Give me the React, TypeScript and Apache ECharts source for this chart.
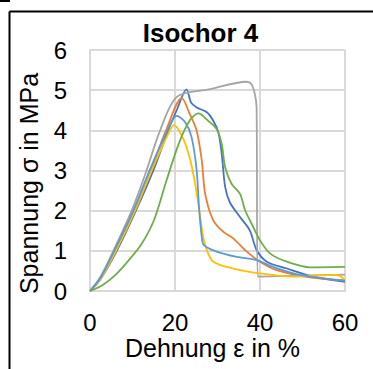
import React, { useEffect, useRef } from "react";
import * as echarts from "echarts";

// Strain (%) and stress (MPa) for each specimen of the isochoric test series 4
const strain1 = [0, 2.5, 6.3, 10.8, 14.9, 18.4, 20.4, 22.7, 23.8, 25.1, 27.5, 29, 30.2, 31, 31.8, 32.9, 35.3, 37.6, 39.2, 41.6, 46.3, 52.5, 60];
const stress1 = [0, 0.3, 1, 2, 3, 4, 4.5, 5.02, 4.69, 4.57, 4.45, 4.24, 3.95, 3.41, 2.59, 2.21, 1.84, 1.51, 1.02, 0.73, 0.56, 0.36, 0.23];

const strain2 = [0, 2.5, 5.9, 10.4, 14.3, 17.9, 21.6, 23.5, 25.1, 26.3, 27.1, 29, 31.4, 33.7, 36.9, 40, 43.9, 51.8, 60];
const stress2 = [0, 0.32, 1, 2, 3, 4, 4.8, 4.4, 3.99, 3.25, 2.42, 1.76, 1.47, 1.31, 0.98, 0.73, 0.52, 0.34, 0.27];

const strain3 = [0, 2.5, 5.5, 9.8, 13.3, 16.5, 20.5, 28, 36.9, 38, 38.8, 39.2, 39.45, 45, 60];
const stress3 = [0, 0.36, 1, 2, 3, 4, 4.84, 5.02, 5.21, 5.15, 4.9, 4.57, 0.36, 0.37, 0.41];

const strain4 = [0, 2.5, 6.1, 10.6, 14.5, 18.8, 19.8, 21.6, 23.1, 24.3, 25.5, 26.5, 27.5, 29, 33.7, 40, 47.8, 58, 60];
const stress4 = [0, 0.3, 1, 2, 3, 4, 4.13, 3.87, 3.45, 2.92, 2.17, 1.43, 1.02, 0.73, 0.56, 0.44, 0.36, 0.4, 0.27];

const strain5 = [0, 2.5, 5.7, 10.2, 14, 18.2, 20.4, 22.4, 23.9, 25.1, 25.7, 26.3, 26.8, 29.8, 34.5, 39.2, 43.1, 49.4, 60];
const stress5 = [0, 0.33, 1, 2, 3, 4, 4.36, 4.2, 3.83, 3, 2.01, 1.35, 1.14, 0.98, 0.85, 0.77, 0.6, 0.4, 0.25];

const strain6 = [0, 3, 6, 9, 12, 15, 18, 21, 23.5, 25.5, 27.8, 29.8, 31, 31.8, 33.3, 35.3, 36.5, 38, 40, 42.4, 46.3, 51.8, 60];
const stress6 = [0, 0.15, 0.4, 0.75, 1.15, 1.75, 2.75, 3.7, 4.25, 4.42, 4.24, 4.03, 3.66, 3.08, 2.67, 2.42, 2.01, 1.68, 1.26, 0.93, 0.73, 0.59, 0.6];

const seriesColors = ["#4472C4", "#ED7D31", "#A5A5A5", "#FFC000", "#5B9BD5", "#70AD47"];
const xTicks = [0, 20, 40, 60];
const yTicks = [0, 1, 2, 3, 4, 5, 6];

const titleText = "Isochor 4";
const xName = "Dehnung ε in %";
const yName = "Spannung σ in MPa";

const curves = [
  [strain1, stress1],
  [strain2, stress2],
  [strain3, stress3],
  [strain4, stress4],
  [strain5, stress5],
  [strain6, stress6],
];

const FONT = "'Liberation Sans', Arial, sans-serif";

export default function App() {
  const ref = useRef<HTMLDivElement>(null);

  useEffect(() => {
    if (!ref.current) return;
    const chart = echarts.init(ref.current, null, { renderer: "svg" });
    chart.setOption({
      animation: false,
      backgroundColor: "#ffffff",
      grid: { left: 90, right: 28, top: 50, bottom: 78 },
      xAxis: {
        type: "value",
        min: xTicks[0],
        max: xTicks[xTicks.length - 1],
        interval: 20,
        axisLine: { show: true, lineStyle: { color: "#D9D9D9", width: 2 } },
        axisTick: { show: false },
        axisLabel: { fontFamily: FONT, fontSize: 24, color: "#000", margin: 19 },
        splitLine: { show: true, lineStyle: { color: "#D9D9D9", width: 2 } },
      },
      yAxis: {
        type: "value",
        min: yTicks[0],
        max: yTicks[yTicks.length - 1],
        interval: 1,
        axisLine: { show: true, lineStyle: { color: "#D9D9D9", width: 2 } },
        axisTick: { show: false },
        axisLabel: { fontFamily: FONT, fontSize: 24, color: "#000", margin: 23 },
        splitLine: { show: true, lineStyle: { color: "#D9D9D9", width: 2 } },
      },
      series: curves.map(([xs, ys], i) => ({
        type: "line",
        data: xs.map((x, k) => [x, ys[k]]),
        smooth: 0.3,
        showSymbol: false,
        symbol: "none",
        lineStyle: { color: seriesColors[i], width: 1.8 },
        z: 2,
      })),
      graphic: [
        { type: "line", shape: { x1: 0, y1: 1, x2: 10, y2: 1 }, style: { stroke: "#000", lineWidth: 2 } },
        { type: "line", shape: { x1: 9.5, y1: 11.5, x2: 373, y2: 11.5 }, style: { stroke: "#000", lineWidth: 2 } },
        { type: "line", shape: { x1: 9.5, y1: 11.5, x2: 9.5, y2: 369 }, style: { stroke: "#000", lineWidth: 2 } },
        {
          type: "text",
          x: 200.5,
          y: 32.5,
          style: {
            text: titleText,
            font: `bold 26px ${FONT}`,
            fill: "#000",
            align: "center",
            verticalAlign: "middle",
          },
        },
        {
          type: "text",
          x: 212.5,
          y: 348,
          style: {
            text: xName,
            font: `25px ${FONT}`,
            fill: "#000",
            align: "center",
            verticalAlign: "middle",
          },
        },
        {
          type: "text",
          x: 29,
          y: 183.5,
          rotation: Math.PI / 2,
          style: {
            text: yName,
            font: `25px ${FONT}`,
            fill: "#000",
            align: "center",
            verticalAlign: "middle",
          },
        },
      ],
    });
    return () => chart.dispose();
  }, []);

  return (
    <div
      ref={ref}
      style={{ position: "fixed", left: 0, top: 0, width: 373, height: 369 }}
    />
  );
}
